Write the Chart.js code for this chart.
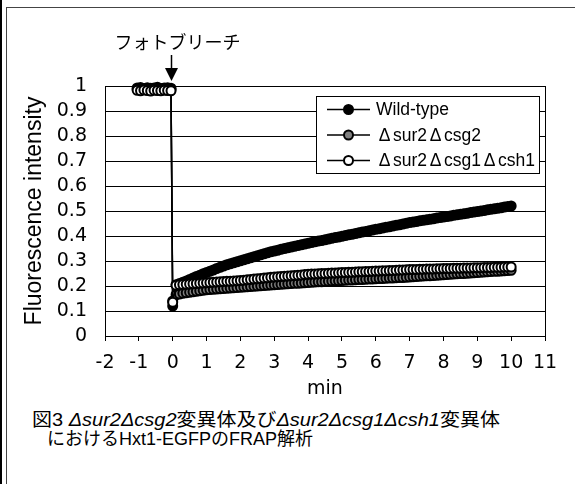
<!DOCTYPE html>
<html>
<head>
<meta charset="utf-8">
<script src="https://cdn.jsdelivr.net/npm/chart.js@4.4.1/dist/chart.umd.min.js"></script>
<style>
  body { margin: 0; width: 575px; height: 484px; overflow: hidden; background: #fff; position: relative;
         font-family: "Liberation Sans", Arial, "Noto Sans CJK JP", sans-serif; }
  #bar { position: absolute; left: 0; top: 0; width: 2px; height: 484px; background: #000; }
  #frame { position: absolute; left: 6px; top: 7px; width: 700px; height: 700px;
           border-left: 1px solid #444; border-top: 1px solid #444; }
  #wrap { position: absolute; left: 0; top: 0; width: 575px; height: 400px; }
  .cap { position: absolute; font-size: 18px; line-height: 19px; color: #000; white-space: nowrap; transform-origin: left top; }
  .cap i { font-style: italic; }
</style>
</head>
<body>
<div id="bar"></div>
<div id="frame"></div>
<div id="wrap"><canvas id="myChart" width="575" height="400"></canvas></div>
<div class="cap" style="left:32px; top:411px; transform:scaleX(1.11);">図3 <i>Δsur2Δcsg2</i>変異体及び<i>Δsur2Δcsg1Δcsh1</i>変異体</div>
<div class="cap" style="left:47px; top:430px;">におけるHxt1-EGFPのFRAP解析</div>
<script>
// tiempos (min)
const times = [
  -1.05, -0.95, -0.85, -0.75, -0.65, -0.55, -0.45, -0.35, -0.25, -0.15, -0.05,
  0, 0.1, 0.2, 0.3, 0.4, 0.5, 0.6, 0.7, 0.8, 0.9,
  1, 1.1, 1.2, 1.3, 1.4, 1.5, 1.6, 1.7, 1.8, 1.9,
  2, 2.1, 2.2, 2.3, 2.4, 2.5, 2.6, 2.7, 2.8, 2.9,
  3, 3.1, 3.2, 3.3, 3.4, 3.5, 3.6, 3.7, 3.8, 3.9,
  4, 4.1, 4.2, 4.3, 4.4, 4.5, 4.6, 4.7, 4.8, 4.9,
  5, 5.1, 5.2, 5.3, 5.4, 5.5, 5.6, 5.7, 5.8, 5.9,
  6, 6.1, 6.2, 6.3, 6.4, 6.5, 6.6, 6.7, 6.8, 6.9,
  7, 7.1, 7.2, 7.3, 7.4, 7.5, 7.6, 7.7, 7.8, 7.9,
  8, 8.1, 8.2, 8.3, 8.4, 8.5, 8.6, 8.7, 8.8, 8.9,
  9, 9.1, 9.2, 9.3, 9.4, 9.5, 9.6, 9.7, 9.8, 9.9,
  10
];

const wildType = [
  0.992, 0.994, 0.990, 0.993, 0.991, 0.992, 0.995, 0.990, 0.992, 0.993, 0.991,
  0.120, 0.205, 0.210, 0.215, 0.220, 0.226, 0.232, 0.238, 0.243, 0.249,
  0.254, 0.259, 0.264, 0.270, 0.275, 0.280, 0.285, 0.289, 0.293, 0.297,
  0.301, 0.305, 0.309, 0.313, 0.317, 0.321, 0.325, 0.329, 0.333, 0.337,
  0.340, 0.343, 0.347, 0.350, 0.353, 0.356, 0.359, 0.362, 0.365, 0.368,
  0.371, 0.374, 0.377, 0.380, 0.382, 0.385, 0.388, 0.391, 0.394, 0.396,
  0.399, 0.402, 0.405, 0.407, 0.410, 0.413, 0.416, 0.418, 0.421, 0.424,
  0.427, 0.429, 0.432, 0.435, 0.437, 0.440, 0.443, 0.445, 0.448, 0.451,
  0.454, 0.456, 0.458, 0.461, 0.463, 0.465, 0.467, 0.469, 0.472, 0.474,
  0.476, 0.478, 0.480, 0.483, 0.485, 0.487, 0.489, 0.491, 0.494, 0.496,
  0.498, 0.500, 0.502, 0.505, 0.507, 0.509, 0.511, 0.513, 0.516, 0.518,
  0.520
];

const sur2csg2 = [
  0.987, 0.985, 0.988, 0.986, 0.987, 0.989, 0.985, 0.987, 0.986, 0.988, 0.986,
  0.140, 0.165, 0.168, 0.171, 0.173, 0.175, 0.177, 0.179, 0.181, 0.183,
  0.185, 0.186, 0.187, 0.188, 0.189, 0.190, 0.191, 0.192, 0.193, 0.194,
  0.195, 0.196, 0.197, 0.198, 0.199, 0.200, 0.201, 0.202, 0.203, 0.204,
  0.205, 0.206, 0.207, 0.208, 0.209, 0.210, 0.211, 0.211, 0.212, 0.213,
  0.214, 0.215, 0.216, 0.217, 0.217, 0.218, 0.219, 0.220, 0.221, 0.221,
  0.222, 0.223, 0.224, 0.224, 0.225, 0.226, 0.226, 0.227, 0.228, 0.228,
  0.229, 0.230, 0.230, 0.231, 0.232, 0.232, 0.233, 0.234, 0.234, 0.235,
  0.236, 0.237, 0.238, 0.239, 0.240, 0.241, 0.241, 0.242, 0.243, 0.244,
  0.245, 0.246, 0.247, 0.248, 0.249, 0.250, 0.250, 0.251, 0.252, 0.253,
  0.254, 0.255, 0.256, 0.257, 0.258, 0.259, 0.259, 0.260, 0.261, 0.262,
  0.263
];

const sur2csg1csh1 = [
  0.983, 0.981, 0.984, 0.982, 0.980, 0.983, 0.982, 0.981, 0.983, 0.982, 0.981,
  0.135, 0.203, 0.205, 0.206, 0.207, 0.208, 0.209, 0.210, 0.211, 0.212,
  0.213, 0.214, 0.215, 0.216, 0.217, 0.218, 0.219, 0.219, 0.220, 0.221,
  0.222, 0.223, 0.225, 0.226, 0.228, 0.229, 0.230, 0.232, 0.233, 0.235,
  0.236, 0.237, 0.238, 0.239, 0.240, 0.241, 0.242, 0.243, 0.244, 0.246,
  0.247, 0.248, 0.248, 0.249, 0.250, 0.250, 0.251, 0.252, 0.252, 0.253,
  0.254, 0.254, 0.255, 0.255, 0.256, 0.257, 0.257, 0.258, 0.258, 0.259,
  0.260, 0.260, 0.261, 0.261, 0.262, 0.262, 0.263, 0.264, 0.264, 0.265,
  0.266, 0.266, 0.266, 0.267, 0.267, 0.268, 0.268, 0.268, 0.269, 0.269,
  0.270, 0.270, 0.270, 0.271, 0.271, 0.271, 0.272, 0.272, 0.272, 0.273,
  0.273, 0.273, 0.274, 0.274, 0.274, 0.275, 0.275, 0.275, 0.276, 0.276,
  0.276
];

const xTicks = [-2, -1, 0, 1, 2, 3, 4, 5, 6, 7, 8, 9, 10, 11];
const yTicks = [0, 0.1, 0.2, 0.3, 0.4, 0.5, 0.6, 0.7, 0.8, 0.9, 1];
const yTickLabels = ['0', '0.1', '0.2', '0.3', '0.4', '0.5', '0.6', '0.7', '0.8', '0.9', '1'];

const yTitle = 'Fluorescence intensity';
const bleachTime = -0.05;
const bleachText = 'フォトブリーチ';

// fuente ancha para los números de los ejes
const axisFont = { family: '"DejaVu Sans", sans-serif', size: 19 };

const toPoints = (vals) => times.map((t, i) => ({ x: t, y: vals[i] }));

function serie(label, vals, fill, order) {
    return {
        label,
        data: toPoints(vals),
        borderColor: '#000',
        borderWidth: 1.5,
        pointRadius: 4.5,
        pointBackgroundColor: fill,
        pointBorderColor: '#000',
        pointBorderWidth: 2,
        tension: 0,
        clip: false,
        order
    };
}

// texto con Δ ancho (como en la fuente original)
function drawLabel(ctx, str, x, y) {
    let cx = x;
    for (const ch of str) {
        if (ch === 'Δ') {
            ctx.textAlign = 'center';
            ctx.fillText(ch, cx + 8.5, y);
            cx += 17;
        } else {
            ctx.textAlign = 'left';
            ctx.fillText(ch, cx, y);
            cx += ctx.measureText(ch).width;
        }
    }
}

const boxLegend = {
    id: 'boxLegend',
    afterDraw(chart) {
        const { ctx, chartArea: a } = chart;
        const L = a.left + 211, T = a.top + 10, W = 223, H = 77;
        ctx.save();
        ctx.fillStyle = '#fff';
        ctx.fillRect(L, T, W, H);
        ctx.strokeStyle = '#000';
        ctx.lineWidth = 1;
        ctx.strokeRect(L + 0.5, T + 0.5, W, H);
        ctx.font = '17.5px "Liberation Sans", Arial';
        ctx.textBaseline = 'middle';
        chart.data.datasets.forEach((ds, i) => {
            const y = T + 13.5 + i * 25.5;
            ctx.beginPath();
            ctx.moveTo(L + 11, y);
            ctx.lineTo(L + 54, y);
            ctx.lineWidth = 1.5;
            ctx.strokeStyle = '#000';
            ctx.stroke();
            ctx.beginPath();
            ctx.arc(L + 32.5, y, 4.5, 0, Math.PI * 2);
            ctx.fillStyle = ds.pointBackgroundColor;
            ctx.fill();
            ctx.lineWidth = 2;
            ctx.stroke();
            ctx.fillStyle = '#000';
            drawLabel(ctx, ds.label, L + 60, y + 1);
        });
        ctx.restore();
    }
};

const bleachMark = {
    id: 'bleachMark',
    afterDraw(chart) {
        const ctx = chart.ctx;
        const x = Math.round(chart.scales.x.getPixelForValue(bleachTime)) + 0.5;
        ctx.save();
        ctx.fillStyle = '#000';
        ctx.strokeStyle = '#000';
        ctx.font = '18px "Noto Sans CJK JP"';
        ctx.textAlign = 'center';
        ctx.textBaseline = 'middle';
        ctx.fillText(bleachText, x + 6, 42);
        ctx.beginPath();
        ctx.moveTo(x, 55);
        ctx.lineTo(x, 69);
        ctx.lineWidth = 1.5;
        ctx.stroke();
        ctx.beginPath();
        ctx.moveTo(x - 6.5, 68);
        ctx.lineTo(x + 6.5, 68);
        ctx.lineTo(x, 81);
        ctx.closePath();
        ctx.fill();
        ctx.restore();
    }
};

Chart.defaults.font.family = '"Liberation Sans", Arial, sans-serif';
Chart.defaults.color = '#000';

const config = {
    type: 'line',
    data: {
        datasets: [
            serie('Wild-type', wildType, '#000', 3),
            serie('Δsur2Δcsg2', sur2csg2, '#808080', 2),
            serie('Δsur2Δcsg1Δcsh1', sur2csg1csh1, '#fff', 1)
        ]
    },
    options: {
        responsive: false,
        animation: false,
        layout: { padding: { top: 86, right: 30, left: 0, bottom: 0 } },
        plugins: { legend: { display: false }, tooltip: { enabled: false } },
        scales: {
            x: {
                type: 'linear',
                min: -2,
                max: 11,
                afterBuildTicks: (s) => { s.ticks = xTicks.map(v => ({ value: v })); },
                afterFit: (s) => { s.height = 64; },
                grid: {
                    color: (c) => (c.tick && c.tick.value === 11) ? '#000' : 'rgba(0,0,0,0)',
                    tickColor: '#000',
                    tickLength: 5,
                    lineWidth: 1
                },
                border: { color: '#000', width: 1 },
                ticks: { color: '#000', font: axisFont, padding: 11, maxRotation: 0, autoSkip: false },
                title: { display: true, text: 'min', color: '#000', font: axisFont, padding: { top: 4, bottom: 0 } }
            },
            y: {
                min: 0,
                max: 1,
                afterBuildTicks: (s) => { s.ticks = yTicks.map(v => ({ value: v })); },
                afterFit: (s) => { s.width = 105; },
                grid: { color: '#000', drawTicks: false, lineWidth: 1 },
                border: { color: '#000', width: 1 },
                ticks: { color: '#000', font: axisFont, padding: 18, autoSkip: false,
                         callback: (v, i) => yTickLabels[i] },
                title: { display: true, text: yTitle, color: '#000', font: { size: 23 }, padding: { top: 21, bottom: 0 } }
            }
        }
    },
    plugins: [boxLegend, bleachMark]
};

new Chart(document.querySelector('#myChart'), config);
</script>
</body>
</html>
